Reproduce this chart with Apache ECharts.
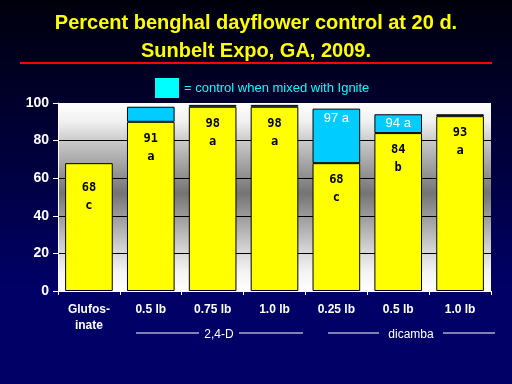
<!DOCTYPE html>
<html>
<head>
<meta charset="utf-8">
<script src="https://cdn.jsdelivr.net/npm/echarts@6/dist/echarts.min.js"></script>
<style>html,body{margin:0;padding:0;background:#000033;}#c{width:512px;height:384px;}</style>
</head>
<body>
<div id="c"></div>
<script>
var categories = ['Glufos-\ninate', '0.5 lb', '0.75 lb', '1.0 lb', '0.25 lb', '0.5 lb', '1.0 lb'];
var aloneValues = [68, 90, 98, 98, 68, 84, 93];
var ignitePart = [null, 8, 1, 1, 29, 10, 1];
var aloneLabels = ['68\nc', '91\na', '98\na', '98\na', '68\nc', '84\nb', '93\na'];
var igniteLabels = ['', '', '', '', '97 a', '94 a', ''];
var yTicks = [0, 20, 40, 60, 80, 100];
var legendText = '= control when mixed with Ignite';

var aloneData = aloneValues.map(function (v, i) {
  return i === 0 ? {value: v, label: {distance: 16}} : v;
});

var chart = echarts.init(document.getElementById('c'), null, {renderer: 'canvas'});
chart.setOption({
  animation: false,
  backgroundColor: new echarts.graphic.LinearGradient(0, 0, 0, 1, [
    {offset: 0, color: '#00000c'},
    {offset: 0.75, color: '#000066'},
    {offset: 1, color: '#000066'}
  ]),
  title: {
    text: 'Percent benghal dayflower control at 20 d.\nSunbelt Expo, GA, 2009.',
    left: 'center',
    top: 4,
    textStyle: {color: '#ffff00', fontFamily: 'Liberation Sans', fontWeight: 'bold', fontSize: 20, lineHeight: 28}
  },
  legend: {
    data: [{name: legendText, itemStyle: {color: '#00ffff', borderWidth: 0}}],
    left: 150, top: 73,
    itemWidth: 24, itemHeight: 20, itemGap: 8,
    icon: 'rect',
    textStyle: {color: '#00ffff', fontFamily: 'Liberation Sans', fontSize: 13}
  },
  grid: {
    left: 58, right: 21, top: 103, bottom: 93,
    show: true,
    borderWidth: 0,
    backgroundColor: new echarts.graphic.LinearGradient(0, 0, 0, 1, [
      {offset: 0, color: '#ffffff'},
      {offset: 0.1, color: '#f0f0f0'},
      {offset: 0.22, color: '#c4c4c4'},
      {offset: 0.48, color: '#747474'},
      {offset: 0.78, color: '#d4d4d4'},
      {offset: 0.9, color: '#f4f4f4'},
      {offset: 1, color: '#ffffff'}
    ])
  },
  xAxis: {
    type: 'category',
    data: categories,
    axisLine: {lineStyle: {color: '#ffffff', width: 1}},
    axisTick: {show: true, lineStyle: {color: '#ffffff'}, length: 4},
    axisLabel: {color: '#ffffff', fontFamily: 'Liberation Sans', fontWeight: 'bold', fontSize: 12, margin: 11, lineHeight: 16, interval: 0}
  },
  yAxis: {
    type: 'value',
    min: 0, max: 100, interval: 20,
    axisLine: {show: true, lineStyle: {color: '#ffffff'}},
    axisTick: {show: true, lineStyle: {color: '#ffffff'}, length: 5},
    axisLabel: {color: '#ffffff', fontFamily: 'Liberation Sans', fontWeight: 'bold', fontSize: 14, margin: 9},
    splitLine: {show: true, showMaxLine: false, lineStyle: {color: '#000000', width: 1}}
  },
  series: [
    {
      name: 'alone',
      type: 'bar',
      stack: 'a',
      barWidth: '77%',
      data: aloneData,
      itemStyle: {color: '#ffff00', borderColor: '#000000', borderWidth: 1},
      label: {
        show: true, position: 'insideTop', distance: 8,
        formatter: function (p) { return aloneLabels[p.dataIndex]; },
        color: '#000000', fontFamily: 'DejaVu Sans Mono', fontWeight: 'bold', fontSize: 12, lineHeight: 18
      }
    },
    {
      name: legendText,
      type: 'bar',
      stack: 'a',
      barWidth: '77%',
      data: ignitePart,
      itemStyle: {color: '#00ccff', borderColor: '#000000', borderWidth: 1},
      label: {
        show: true, position: 'insideTop', distance: 3,
        formatter: function (p) { return igniteLabels[p.dataIndex]; },
        color: '#ffffff', fontFamily: 'Liberation Sans', fontSize: 13
      }
    }
  ],
  graphic: [
    {type: 'line', shape: {x1: 20, y1: 63, x2: 492, y2: 63}, style: {stroke: '#ff0000', lineWidth: 2}},
    {type: 'line', shape: {x1: 136, y1: 333, x2: 199, y2: 333}, style: {stroke: '#ffffff', lineWidth: 1}},
    {type: 'line', shape: {x1: 239, y1: 333, x2: 303, y2: 333}, style: {stroke: '#ffffff', lineWidth: 1}},
    {type: 'text', x: 219, y: 335, style: {text: '2,4-D', fill: '#ffffff', font: '12px "Liberation Sans"', textAlign: 'center', textVerticalAlign: 'middle'}},
    {type: 'line', shape: {x1: 328, y1: 333, x2: 379, y2: 333}, style: {stroke: '#ffffff', lineWidth: 1}},
    {type: 'line', shape: {x1: 443, y1: 333, x2: 495, y2: 333}, style: {stroke: '#ffffff', lineWidth: 1}},
    {type: 'text', x: 411, y: 335, style: {text: 'dicamba', fill: '#ffffff', font: '12px "Liberation Sans"', textAlign: 'center', textVerticalAlign: 'middle'}}
  ]
});
</script>
</body>
</html>
